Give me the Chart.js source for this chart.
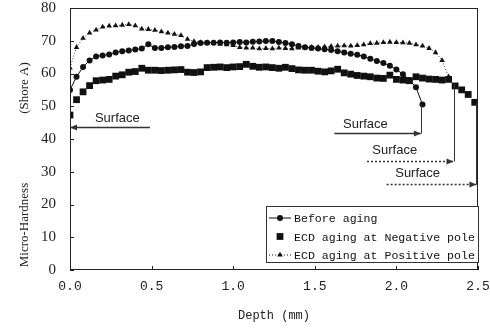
<!DOCTYPE html>
<html>
<head>
<meta charset="utf-8">
<script src="https://cdn.jsdelivr.net/npm/chart.js@4.4.1/dist/chart.umd.min.js"></script>
<style>
  html, body { margin: 0; padding: 0; background: #fff; }
  #wrap { width: 490px; height: 328px; }
</style>
</head>
<body>
<div id="wrap"><canvas id="c" width="490" height="328"></canvas></div>
<script>
// profondeur de mesure (mm), pas commun aux trois séries
const depthMm = [
  0.00, 0.04, 0.08, 0.12, 0.16, 0.20, 0.24, 0.28, 0.32, 0.36,
  0.40, 0.44, 0.48, 0.52, 0.56, 0.60, 0.64, 0.68, 0.72, 0.76,
  0.80, 0.84, 0.88, 0.92, 0.96, 1.00, 1.04, 1.08, 1.12, 1.16,
  1.20, 1.24, 1.28, 1.32, 1.36, 1.40, 1.44, 1.48, 1.52, 1.56,
  1.60, 1.64, 1.68, 1.72, 1.76, 1.80, 1.84, 1.88, 1.92, 1.96,
  2.00, 2.04, 2.08, 2.12, 2.16, 2.20, 2.24, 2.28, 2.32, 2.36,
  2.40, 2.44, 2.48
];

// Micro-dureté (Shore A)
const beforeAging = [
  55.0, 59.0, 62.0, 64.0, 65.2, 65.5, 65.8, 66.4, 66.8, 67.0,
  67.3, 67.6, 68.9, 67.8, 67.8, 68.0, 68.1, 68.3, 68.4, 69.0,
  69.3, 69.4, 69.4, 69.5, 69.4, 69.5, 69.6, 69.5, 69.7, 69.8,
  69.9, 69.9, 69.6, 69.3, 68.9, 68.4, 68.0, 67.8, 67.6, 67.4,
  67.2, 66.8, 66.4, 66.0, 65.7, 65.2, 64.5, 63.8, 63.2, 62.4,
  61.2, 59.8, 58.0, 55.8, 50.5
];

const negativePole = [
  47.3, 52.0, 54.4, 56.3, 57.8, 58.0, 58.2, 59.2, 59.6, 60.4,
  60.6, 61.6, 61.0, 61.0, 60.9, 61.0, 61.1, 61.2, 60.4, 60.3,
  60.5, 61.8, 61.9, 62.0, 61.8, 62.0, 62.1, 62.8, 62.2, 61.9,
  62.0, 61.8, 61.6, 61.9, 61.5, 61.1, 61.0, 61.0, 60.7, 60.5,
  60.8, 61.3, 60.2, 59.8, 59.4, 59.2, 59.0, 58.6, 58.5, 59.5,
  58.2, 58.0, 57.8, 59.0, 58.6, 58.3, 58.2, 58.0, 58.2, 56.2,
  55.0, 53.6, 51.2
];

const positivePole = [
  61.7, 68.0, 70.8, 72.4, 73.3, 74.2, 74.5, 74.6, 74.8, 75.0,
  74.6, 73.6, 73.5, 73.2, 72.8, 72.4, 72.0, 71.6, 70.5, 69.8,
  69.5, 69.3, 69.2, 69.0, 68.8, 68.6, 68.0, 67.8, 67.8, 67.6,
  67.7, 67.6, 67.8, 67.7, 67.6, 67.8, 67.9, 68.0, 68.0, 68.2,
  68.3, 68.4, 68.5, 68.4, 68.6, 68.8, 69.2, 69.3, 69.5, 69.6,
  69.5, 69.4, 69.3, 68.8, 68.4, 67.7, 66.4, 64.0, 59.0
];

const seriesLabels = ['Before aging', 'ECD aging at Negative pole', 'ECD aging at Positive pole'];
const xTicks = [0, 0.5, 1.0, 1.5, 2.0, 2.5];
const yTicks = [0, 10, 20, 30, 40, 50, 60, 70, 80];

// repères "Surface" (en unités de données)
const surfaceNotes = [
  { text: 'Surface', tx: 0.29, ty: 46.4, from: 0.49, to: 0.0, y: 43.7, dash: [], drop: null },
  { text: 'Surface', tx: 1.81, ty: 44.6, from: 1.62, to: 2.15, y: 41.8, dash: [], drop: 50.5 },
  { text: 'Surface', tx: 1.99, ty: 36.6, from: 1.82, to: 2.35, y: 33.3, dash: [2, 2], drop: 57.0 },
  { text: 'Surface', tx: 2.13, ty: 29.6, from: 1.94, to: 2.49, y: 26.3, dash: [2, 2], drop: 51.0 }
];

const toPoints = vals => vals.map((v, i) => ({ x: depthMm[i], y: v }));

const INK = '#111';
const MONO = '"Liberation Mono", "DejaVu Sans Mono", monospace';
const SERIF = '"Liberation Serif", "DejaVu Serif", serif';

// cadre, petites graduations intérieures, titre Y, notes et légende
const decorPlugin = {
  id: 'decor',
  afterDatasetsDraw(chart) {
    const { ctx, chartArea: a, scales: { x, y } } = chart;
    ctx.save();

    // cadre
    ctx.strokeStyle = '#222';
    ctx.lineWidth = 1;
    ctx.strokeRect(a.left + 0.5, a.top + 0.5, a.right - a.left - 1, a.bottom - a.top - 1);

    // graduations vers l'intérieur
    ctx.beginPath();
    xTicks.forEach(v => {
      const px = Math.round(x.getPixelForValue(v)) + 0.5;
      ctx.moveTo(px, a.bottom);
      ctx.lineTo(px, a.bottom - 4);
    });
    yTicks.forEach(v => {
      const py = Math.round(y.getPixelForValue(v)) + 0.5;
      ctx.moveTo(a.left, py);
      ctx.lineTo(a.left + 4, py);
    });
    ctx.stroke();

    // titre de l'axe Y
    ctx.fillStyle = '#222';
    ctx.font = '13px ' + SERIF;
    ctx.textAlign = 'center';
    ctx.textBaseline = 'middle';
    ctx.save();
    ctx.translate(25, 0);
    ctx.rotate(-Math.PI / 2);
    ctx.fillText('Micro-Hardness', -225, 0);
    ctx.fillText('(Shore A)', -88, 0);
    ctx.restore();

    // notes "Surface" avec flèches
    surfaceNotes.forEach(n => {
      const x1 = x.getPixelForValue(n.from);
      const x2 = x.getPixelForValue(n.to);
      const yy = Math.round(y.getPixelForValue(n.y)) + 0.5;
      ctx.strokeStyle = '#333';
      ctx.fillStyle = '#333';
      ctx.lineWidth = 1.3;
      ctx.setLineDash(n.dash);
      ctx.beginPath();
      ctx.moveTo(x1, yy);
      ctx.lineTo(x2, yy);
      ctx.stroke();
      ctx.setLineDash([]);
      const dir = x2 > x1 ? 1 : -1;
      ctx.beginPath();
      ctx.moveTo(x2, yy);
      ctx.lineTo(x2 - dir * 7, yy - 3);
      ctx.lineTo(x2 - dir * 7, yy + 3);
      ctx.closePath();
      ctx.fill();
      if (n.drop !== null) {
        ctx.lineWidth = 1;
        ctx.beginPath();
        ctx.moveTo(Math.round(x2) + 0.5, y.getPixelForValue(n.drop));
        ctx.lineTo(Math.round(x2) + 0.5, yy);
        ctx.stroke();
      }
      ctx.fillStyle = '#222';
      ctx.font = '13px "Liberation Sans", Arial, sans-serif';
      ctx.textAlign = 'center';
      ctx.textBaseline = 'middle';
      ctx.fillText(n.text, x.getPixelForValue(n.tx), y.getPixelForValue(n.ty));
    });

    // légende
    const lx = a.left + 196, ly = a.top + 198, lw = a.right - a.left - 195, lh = 57;
    ctx.fillStyle = '#fff';
    ctx.fillRect(lx, ly, lw, lh);
    ctx.strokeStyle = '#333';
    ctx.lineWidth = 1;
    ctx.strokeRect(lx + 0.5, ly + 0.5, lw - 1, lh - 1);
    chart.data.datasets.forEach((ds, i) => {
      const rowY = ly + 12 + i * 18.5;
      const sx = lx + 14;
      if (ds.showLine !== false) {
        ctx.strokeStyle = INK;
        ctx.lineWidth = 1;
        ctx.setLineDash(ds.borderDash || []);
        ctx.beginPath();
        ctx.moveTo(lx + 3, rowY);
        ctx.lineTo(lx + 25, rowY);
        ctx.stroke();
        ctx.setLineDash([]);
      }
      ctx.fillStyle = INK;
      ctx.strokeStyle = INK;
      Chart.helpers.drawPoint(ctx, {
        pointStyle: ds.pointStyle, radius: ds.pointRadius, borderWidth: 0
      }, sx, rowY);
      ctx.fillStyle = '#111';
      ctx.font = '11.6px ' + MONO;
      ctx.textAlign = 'left';
      ctx.textBaseline = 'middle';
      ctx.fillText(ds.label, lx + 28, rowY + 1);
    });
    ctx.restore();
  }
};

new Chart(document.getElementById('c'), {
  type: 'line',
  data: {
    datasets: [
      {
        label: seriesLabels[0],
        data: toPoints(beforeAging),
        borderColor: INK,
        borderWidth: 1,
        pointStyle: 'circle',
        pointRadius: 3,
        pointBackgroundColor: INK,
        pointBorderColor: INK,
        pointBorderWidth: 0,
        tension: 0
      },
      {
        label: seriesLabels[1],
        data: toPoints(negativePole),
        showLine: false,
        borderColor: INK,
        pointStyle: 'rect',
        pointRadius: 4.8,
        pointBackgroundColor: INK,
        pointBorderColor: INK,
        pointBorderWidth: 0
      },
      {
        label: seriesLabels[2],
        data: toPoints(positivePole),
        borderColor: '#333',
        borderWidth: 1,
        borderDash: [1, 2],
        pointStyle: 'triangle',
        pointRadius: 3.2,
        pointBackgroundColor: INK,
        pointBorderColor: INK,
        pointBorderWidth: 0,
        tension: 0
      }
    ]
  },
  options: {
    responsive: false,
    animation: false,
    layout: { padding: { top: 8, right: 12, left: 0, bottom: 0 } },
    plugins: {
      legend: { display: false },
      tooltip: { enabled: false }
    },
    scales: {
      x: {
        type: 'linear',
        min: 0,
        max: 2.5,
        afterFit: s => { s.height = 58; s.paddingLeft = 0; s.paddingRight = 0; },
        afterBuildTicks: s => { s.ticks = xTicks.map(v => ({ value: v })); },
        grid: { display: false, drawTicks: false },
        border: { display: false },
        ticks: {
          color: '#222',
          padding: 9,
          maxRotation: 0,
          font: { family: MONO, size: 13 },
          callback: v => v.toFixed(1)
        },
        title: {
          display: true,
          text: 'Depth (mm)',
          color: '#222',
          font: { family: MONO, size: 12 },
          padding: { top: 0, bottom: 5 }
        }
      },
      y: {
        min: 0,
        max: 80,
        afterFit: s => { s.width = 70; s.paddingTop = 0; s.paddingBottom = 0; },
        afterBuildTicks: s => { s.ticks = yTicks.map(v => ({ value: v })); },
        grid: { display: false, drawTicks: false },
        border: { display: false },
        ticks: {
          color: '#222',
          padding: 14,
          font: { family: SERIF, size: 15 }
        }
      }
    }
  },
  plugins: [decorPlugin]
});
</script>
</body>
</html>
